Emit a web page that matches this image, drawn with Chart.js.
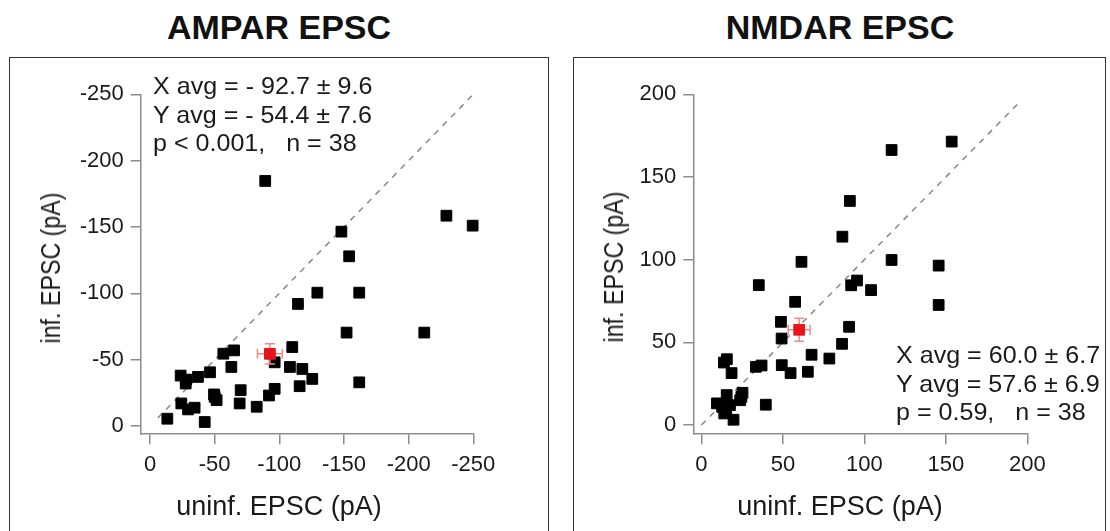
<!DOCTYPE html>
<html>
<head>
<meta charset="utf-8">
<script src="https://cdn.jsdelivr.net/npm/chart.js@4.4.0/dist/chart.umd.min.js"></script>
<style>
  body { margin: 0; width: 1110px; height: 531px; overflow: hidden; background: #fff; position: relative;
         font-family: "Liberation Sans", Arial, sans-serif; color: #1a1a1a; }
  .frame { position: absolute; top: 57px; height: 500px; border: 1.5px solid #333; box-sizing: border-box; }
  .title { position: absolute; top: 8px; font-weight: bold; font-size: 34px; line-height: 38px;
           transform: translateX(-50%); white-space: nowrap; color: #111; }
  canvas { position: absolute; top: 0; }
  .xtitle { position: absolute; font-size: 27px; line-height: 30px; transform: translate(-50%, -50%); white-space: nowrap; }
  .ytitle { position: absolute; font-size: 27px; line-height: 30px; white-space: nowrap;
            transform: translate(-50%, -50%) rotate(-90deg) scaleX(0.86); }
  .stats { position: absolute; font-size: 24px; line-height: 28.5px; white-space: pre;
           transform: scaleX(1.045); transform-origin: left top; }
</style>
</head>
<body>
<div class="frame" style="left:9px; width:540px;"></div>
<div class="frame" style="left:573px; width:533px;"></div>

<div class="title" style="left:279px;">AMPAR EPSC</div>
<div class="title" style="left:840px;">NMDAR EPSC</div>

<canvas id="ampa" width="555" height="531" style="left:0;"></canvas>
<canvas id="nmda" width="555" height="531" style="left:555px;"></canvas>

<div class="xtitle" style="left:279px; top:506px;">uninf. EPSC (pA)</div>
<div class="xtitle" style="left:840px; top:506px;">uninf. EPSC (pA)</div>
<div class="ytitle" style="left:51px; top:268px;">inf. EPSC (pA)</div>
<div class="ytitle" style="left:614px; top:267px;">inf. EPSC (pA)</div>

<div class="stats" style="left:153px; top:72px;">X avg = - 92.7 ± 9.6
Y avg = - 54.4 ± 7.6
p &lt; 0.001,   n = 38</div>
<div class="stats" style="left:896px; top:341px;">X avg = 60.0 ± 6.7
Y avg = 57.6 ± 6.9
p = 0.59,   n = 38</div>

<script>
// AMPAR panel (uninfected vs infected EPSC, pA)
const ampaX = [-89.1, -229.2, -249.5, -148, -154, -129.4, -161.8, -114.4, -152, -212.1,
               -110, -161.8, -56.7, -65, -62.9, -96.4, -108.2, -117.8, -125.5, -115.7,
               -96.4, -92, -70.1, -69.3, -82.5, -49.5, -51.5, -46.4, -37.1, -23.7,
               -27.6, -24.2, -29.4, -34.5, -42.3, -13.4, -28, -50];
const ampaY = [-184.7, -158.5, -151, -146.5, -127.9, -100.5, -100.5, -92, -70.4, -70.4,
               -59.5, -32.9, -54.5, -57, -44.5, -48, -44.5, -43, -35.5, -30,
               -28, -23, -27, -17, -14.5, -23.8, -19.5, -40.5, -37, -38,
               -32, -17, -12.5, -13.8, -3, -5.5, -35, -22];
const ampaMean = [-92.7, -54.4];
const ampaSem = [9.6, 7.6];
const ampaTicks = [0, -50, -100, -150, -200, -250];

// NMDAR panel
const nmdaX = [153.6, 116.7, 91.1, 86.5, 61.4, 116.7, 145.6, 35.2, 95.5, 91.9,
               104.1, 57.5, 145.6, 48.8, 90.6, 49.2, 86.3, 67.6, 78.5, 49.3,
               54.7, 65.3, 36.9, 33.4, 13.8, 15.6, 18.5, 39.5, 9.5, 15.5,
               15.2, 19.7, 17.5, 25.2, 24.5, 23.8, 14.0, 12.7];
const nmdaY = [171.4, 166.3, 135.5, 113.9, 98.7, 99.8, 96.4, 84.6, 87.4, 84.5,
               81.6, 74.5, 72.6, 62.4, 59.4, 52.3, 49.1, 42.5, 40.2, 36.2,
               31.4, 32.2, 36, 35.2, 37.8, 39.8, 31.4, 12.3, 13.1, 18.1,
               9.5, 3.2, 12, 19.5, 17, 15, 7.0, 11];
const nmdaMean = [60.0, 57.6];
const nmdaSem = [6.7, 6.9];
const nmdaTicks = [0, 50, 100, 150, 200];

const axisColor = '#8c8c8c';
const fontFamily = '"Liberation Sans", Arial, sans-serif';

// draws the SEM bars of the mean point just before the red square
const errorBars = {
    id: 'errorBars',
    beforeDatasetDraw(chart, args, opts) {
        if (args.index !== 2) return;
        const xs = chart.scales.x, ys = chart.scales.y;
        const cx = xs.getPixelForValue(opts.mean[0]);
        const cy = ys.getPixelForValue(opts.mean[1]);
        const x1 = xs.getPixelForValue(opts.mean[0] - opts.sem[0]);
        const x2 = xs.getPixelForValue(opts.mean[0] + opts.sem[0]);
        const y1 = ys.getPixelForValue(opts.mean[1] - opts.sem[1]);
        const y2 = ys.getPixelForValue(opts.mean[1] + opts.sem[1]);
        const ctx = chart.ctx;
        const cap = 5;
        ctx.save();
        ctx.strokeStyle = '#f08a8a';
        ctx.lineWidth = 1.5;
        ctx.beginPath();
        ctx.moveTo(x1, cy); ctx.lineTo(x2, cy);
        ctx.moveTo(x1, cy - cap); ctx.lineTo(x1, cy + cap);
        ctx.moveTo(x2, cy - cap); ctx.lineTo(x2, cy + cap);
        ctx.moveTo(cx, y1); ctx.lineTo(cx, y2);
        ctx.moveTo(cx - cap, y1); ctx.lineTo(cx + cap, y1);
        ctx.moveTo(cx - cap, y2); ctx.lineTo(cx + cap, y2);
        ctx.stroke();
        ctx.restore();
    }
};

function axis(min, max, reverse, ticks, isX) {
    return {
        type: 'linear',
        min: min,
        max: max,
        reverse: reverse,
        afterBuildTicks: s => { s.ticks = ticks.map(v => ({ value: v })); },
        afterFit: s => { if (isX) s.height = 60; else s.width = 60; },
        grid: { drawOnChartArea: false, drawTicks: true, tickLength: isX ? 11 : 10, color: axisColor, lineWidth: 1.5 },
        border: { display: true, color: axisColor, width: 1.5 },
        ticks: {
            color: '#1a1a1a',
            font: { family: fontFamily, size: 22 },
            padding: 7,
            maxRotation: 0,
            autoSkip: false,
            callback: v => String(v)
        }
    };
}

function makeChart(id, xs, ys, mean, sem, diag, xRange, yRange, ticks, reverse, pad) {
    const pts = xs.map((x, i) => ({ x: x, y: ys[i] }));
    return new Chart(document.getElementById(id), {
        type: 'scatter',
        data: {
            datasets: [
                {
                    data: [{ x: diag[0], y: diag[0] }, { x: diag[1], y: diag[1] }],
                    showLine: true,
                    borderColor: '#888',
                    borderWidth: 1.5,
                    borderDash: [6, 6],
                    pointRadius: 0,
                    clip: false,
                    order: 3
                },
                {
                    data: pts,
                    pointStyle: 'rect',
                    pointRadius: 7.6,
                    backgroundColor: '#000',
                    borderColor: '#000',
                    borderWidth: 1,
                    clip: false,
                    order: 2
                },
                {
                    data: [{ x: mean[0], y: mean[1] }],
                    pointStyle: 'rect',
                    pointRadius: 7.6,
                    backgroundColor: '#e8141c',
                    borderColor: '#e8141c',
                    borderWidth: 1,
                    clip: false,
                    order: 1
                }
            ]
        },
        options: {
            responsive: false,
            animation: false,
            layout: { autoPadding: false, padding: pad },
            scales: {
                x: axis(xRange[0], xRange[1], reverse, ticks, true),
                y: axis(yRange[0], yRange[1], reverse, ticks, false)
            },
            plugins: {
                legend: { display: false },
                tooltip: { enabled: false },
                errorBars: { mean: mean, sem: sem }
            }
        },
        plugins: [errorBars]
    });
}

makeChart('ampa', ampaX, ampaY, ampaMean, ampaSem, [-6, -250],
          [-250, 7.2], [-250, 5.5], ampaTicks, true,
          { left: 80.7, top: 94.3, right: 81.7, bottom: 37.7 });

makeChart('nmda', nmdaX, nmdaY, nmdaMean, nmdaSem, [0, 195],
          [-5, 200], [-5, 200], nmdaTicks, false,
          { left: 78.3, top: 94.3, right: 82.7, bottom: 37.7 });
</script>
</body>
</html>
